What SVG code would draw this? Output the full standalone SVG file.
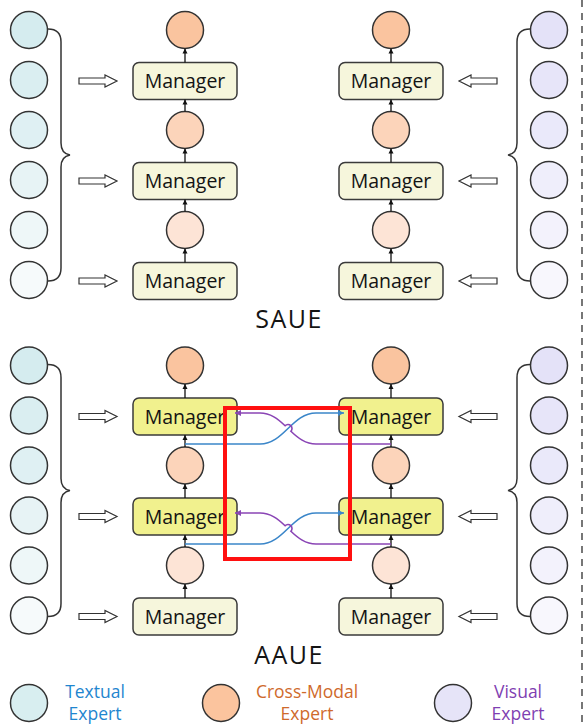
<svg xmlns="http://www.w3.org/2000/svg" width="584" height="724" viewBox="0 0 584 724">
  <style>
    .expert { stroke: #333; stroke-width: 1.5; }
    .mgr rect { fill: #f6f6dc; stroke: #3a3a3a; stroke-width: 1.5; }
    .mgr.active rect { fill: #f1f18e; }
    .mgr text { font-family: "Open Sans", "Noto Sans", sans-serif; font-size: 19.5px; fill: #141414; text-anchor: middle; }
    .hollow { fill: #fff; stroke: #333; stroke-width: 1.2; stroke-linejoin: miter; }
    .brace { fill: none; stroke: #333; stroke-width: 1.5; }
    .stem { stroke: #111; stroke-width: 1.3; marker-end: url(#tip); }
    .title { font-family: "Open Sans", "Noto Sans", sans-serif; font-size: 25px; fill: #141414; text-anchor: middle; letter-spacing: 1.5px; }
    .legend { font-family: "Open Sans", "Noto Sans", sans-serif; font-size: 17.5px; text-anchor: middle; }
    .blue { fill: none; stroke: #3b86c9; stroke-width: 1.6; marker-end: url(#tipBlue); }
    .purple { fill: none; stroke: #8a45b5; stroke-width: 1.6; marker-end: url(#tipPurple); }
  </style>
  <defs>
    <marker id="tip" viewBox="0 0 10 10" refX="10" refY="5" markerWidth="5" markerHeight="6" markerUnits="userSpaceOnUse" orient="auto">
      <path d="M0,0 L10,5 L0,10 z" fill="#111"/>
    </marker>
    <marker id="tipBlue" viewBox="0 0 10 10" refX="10" refY="5" markerWidth="7" markerHeight="6" markerUnits="userSpaceOnUse" orient="auto">
      <path d="M0,0 L10,5 L0,10 z" fill="#3b86c9"/>
    </marker>
    <marker id="tipPurple" viewBox="0 0 10 10" refX="10" refY="5" markerWidth="7" markerHeight="6" markerUnits="userSpaceOnUse" orient="auto">
      <path d="M0,0 L10,5 L0,10 z" fill="#8a45b5"/>
    </marker>
    <circle id="ball" r="18.5"/>
    <polygon id="arrowR" points="-38,-3 -12,-3 -12,-6 0,0 -12,6 -12,3 -38,3"/>
    <polygon id="arrowL" points="38,-3 12,-3 12,-6 0,0 12,6 12,3 38,3"/>
    <path id="braceL" d="M48,29 C57,29 61,33 61,42 L61,143 C61,150 64,154 70,155 C64,156 61,160 61,167 L61,268 C61,277 57,281 48,281"/>
    <path id="braceR" d="M530,29 C521,29 517,33 517,42 L517,143 C517,150 514,154 508,155 C514,156 517,160 517,167 L517,268 C517,277 521,281 530,281"/>
  </defs>

  <!-- page divider on the right edge -->
  <line x1="582" y1="0" x2="582" y2="724" stroke="#555" stroke-width="1.6" stroke-dasharray="7 6"/>

  <!-- ===== SAUE ===== -->
  <g id="saue">
    <g id="saue-textual">
      <use href="#ball" class="expert" x="29" y="30" fill="#d5ecef"/>
      <use href="#ball" class="expert" x="29" y="80" fill="#daeef1"/>
      <use href="#ball" class="expert" x="29" y="130" fill="#dff0f3"/>
      <use href="#ball" class="expert" x="29" y="180" fill="#e7f3f5"/>
      <use href="#ball" class="expert" x="29" y="230" fill="#eef7f8"/>
      <use href="#ball" class="expert" x="29" y="280" fill="#f6fafb"/>
      <use href="#braceL" class="brace"/>
    </g>
    <g id="saue-visual">
      <use href="#ball" class="expert" x="549" y="30" fill="#e4e2f8"/>
      <use href="#ball" class="expert" x="549" y="80" fill="#e7e5f9"/>
      <use href="#ball" class="expert" x="549" y="130" fill="#eae9fa"/>
      <use href="#ball" class="expert" x="549" y="180" fill="#efeefb"/>
      <use href="#ball" class="expert" x="549" y="230" fill="#f3f2fc"/>
      <use href="#ball" class="expert" x="549" y="280" fill="#f8f7fd"/>
      <use href="#braceR" class="brace"/>
    </g>
    <g id="saue-inputs">
      <use href="#arrowR" class="hollow" x="117" y="81"/>
      <use href="#arrowR" class="hollow" x="117" y="181"/>
      <use href="#arrowR" class="hollow" x="117" y="281"/>
      <use href="#arrowL" class="hollow" x="459" y="81"/>
      <use href="#arrowL" class="hollow" x="459" y="181"/>
      <use href="#arrowL" class="hollow" x="459" y="281"/>
    </g>
    <g id="saue-left">
      <g id="saue-l-cm1"><use href="#ball" class="expert" x="185" y="30" fill="#fac49f"/></g>
      <g id="saue-l-cm2"><use href="#ball" class="expert" x="185" y="130" fill="#fcd4ba"/></g>
      <g id="saue-l-cm3"><use href="#ball" class="expert" x="185" y="230" fill="#fde4d6"/></g>
      <g id="saue-l-m1" class="mgr"><rect x="133" y="62.5" width="104" height="37" rx="6"/><text x="185" y="88">Manager</text></g>
      <g id="saue-l-m2" class="mgr"><rect x="133" y="162.5" width="104" height="37" rx="6"/><text x="185" y="188">Manager</text></g>
      <g id="saue-l-m3" class="mgr"><rect x="133" y="262.5" width="104" height="37" rx="6"/><text x="185" y="288">Manager</text></g>
    </g>
    <g id="saue-right">
      <g id="saue-r-cm1"><use href="#ball" class="expert" x="391" y="30" fill="#fac49f"/></g>
      <g id="saue-r-cm2"><use href="#ball" class="expert" x="391" y="130" fill="#fcd4ba"/></g>
      <g id="saue-r-cm3"><use href="#ball" class="expert" x="391" y="230" fill="#fde4d6"/></g>
      <g id="saue-r-m1" class="mgr"><rect x="339" y="62.5" width="104" height="37" rx="6"/><text x="391" y="88">Manager</text></g>
      <g id="saue-r-m2" class="mgr"><rect x="339" y="162.5" width="104" height="37" rx="6"/><text x="391" y="188">Manager</text></g>
      <g id="saue-r-m3" class="mgr"><rect x="339" y="262.5" width="104" height="37" rx="6"/><text x="391" y="288">Manager</text></g>
    </g>
    <g id="saue-links">
      <line class="stem" x1="185" y1="262.5" x2="185" y2="248.5"/>
      <line class="stem" x1="185" y1="211.5" x2="185" y2="199.5"/>
      <line class="stem" x1="185" y1="162.5" x2="185" y2="148.5"/>
      <line class="stem" x1="185" y1="111.5" x2="185" y2="99.5"/>
      <line class="stem" x1="185" y1="62.5" x2="185" y2="48.5"/>
      <line class="stem" x1="391" y1="262.5" x2="391" y2="248.5"/>
      <line class="stem" x1="391" y1="211.5" x2="391" y2="199.5"/>
      <line class="stem" x1="391" y1="162.5" x2="391" y2="148.5"/>
      <line class="stem" x1="391" y1="111.5" x2="391" y2="99.5"/>
      <line class="stem" x1="391" y1="62.5" x2="391" y2="48.5"/>
    </g>
    <text class="title" x="289" y="328">SAUE</text>
  </g>

  <!-- ===== AAUE ===== -->
  <g id="aaue">
    <g id="aaue-textual" transform="translate(0,335.5)">
      <use href="#ball" class="expert" x="29" y="30" fill="#d5ecef"/>
      <use href="#ball" class="expert" x="29" y="80" fill="#daeef1"/>
      <use href="#ball" class="expert" x="29" y="130" fill="#dff0f3"/>
      <use href="#ball" class="expert" x="29" y="180" fill="#e7f3f5"/>
      <use href="#ball" class="expert" x="29" y="230" fill="#eef7f8"/>
      <use href="#ball" class="expert" x="29" y="280" fill="#f6fafb"/>
      <use href="#braceL" class="brace"/>
    </g>
    <g id="aaue-visual" transform="translate(0,335.5)">
      <use href="#ball" class="expert" x="549" y="30" fill="#e4e2f8"/>
      <use href="#ball" class="expert" x="549" y="80" fill="#e7e5f9"/>
      <use href="#ball" class="expert" x="549" y="130" fill="#eae9fa"/>
      <use href="#ball" class="expert" x="549" y="180" fill="#efeefb"/>
      <use href="#ball" class="expert" x="549" y="230" fill="#f3f2fc"/>
      <use href="#ball" class="expert" x="549" y="280" fill="#f8f7fd"/>
      <use href="#braceR" class="brace"/>
    </g>
    <g id="aaue-inputs">
      <use href="#arrowR" class="hollow" x="117" y="416.5"/>
      <use href="#arrowR" class="hollow" x="117" y="516.5"/>
      <use href="#arrowR" class="hollow" x="117" y="616.5"/>
      <use href="#arrowL" class="hollow" x="459" y="416.5"/>
      <use href="#arrowL" class="hollow" x="459" y="516.5"/>
      <use href="#arrowL" class="hollow" x="459" y="616.5"/>
    </g>
    <g id="aaue-left">
      <g id="aaue-l-cm1"><use href="#ball" class="expert" x="185" y="365.5" fill="#fac49f"/></g>
      <g id="aaue-l-cm2"><use href="#ball" class="expert" x="185" y="465.5" fill="#fcd4ba"/></g>
      <g id="aaue-l-cm3"><use href="#ball" class="expert" x="185" y="565.5" fill="#fde4d6"/></g>
      <g id="aaue-l-m1" class="mgr active"><rect x="133" y="398" width="104" height="37" rx="6"/><text x="185" y="423.5">Manager</text></g>
      <g id="aaue-l-m2" class="mgr active"><rect x="133" y="498" width="104" height="37" rx="6"/><text x="185" y="523.5">Manager</text></g>
      <g id="aaue-l-m3" class="mgr"><rect x="133" y="598" width="104" height="37" rx="6"/><text x="185" y="623.5">Manager</text></g>
    </g>
    <g id="aaue-right">
      <g id="aaue-r-cm1"><use href="#ball" class="expert" x="391" y="365.5" fill="#fac49f"/></g>
      <g id="aaue-r-cm2"><use href="#ball" class="expert" x="391" y="465.5" fill="#fcd4ba"/></g>
      <g id="aaue-r-cm3"><use href="#ball" class="expert" x="391" y="565.5" fill="#fde4d6"/></g>
      <g id="aaue-r-m1" class="mgr active"><rect x="339" y="398" width="104" height="37" rx="6"/><text x="391" y="423.5">Manager</text></g>
      <g id="aaue-r-m2" class="mgr active"><rect x="339" y="498" width="104" height="37" rx="6"/><text x="391" y="523.5">Manager</text></g>
      <g id="aaue-r-m3" class="mgr"><rect x="339" y="598" width="104" height="37" rx="6"/><text x="391" y="623.5">Manager</text></g>
    </g>
    <g id="aaue-links">
      <g transform="translate(0,335.5)">
        <line class="stem" x1="185" y1="262.5" x2="185" y2="248.5"/>
        <line class="stem" x1="185" y1="211.5" x2="185" y2="199.5"/>
        <line class="stem" x1="185" y1="162.5" x2="185" y2="148.5"/>
        <line class="stem" x1="185" y1="111.5" x2="185" y2="99.5"/>
        <line class="stem" x1="185" y1="62.5" x2="185" y2="48.5"/>
        <line class="stem" x1="391" y1="262.5" x2="391" y2="248.5"/>
        <line class="stem" x1="391" y1="211.5" x2="391" y2="199.5"/>
        <line class="stem" x1="391" y1="162.5" x2="391" y2="148.5"/>
        <line class="stem" x1="391" y1="111.5" x2="391" y2="99.5"/>
        <line class="stem" x1="391" y1="62.5" x2="391" y2="48.5"/>
      </g>
      <!-- cross links: textual side feeds the visual manager and vice versa; purple hops over blue -->
      <g id="cross-1">
        <path class="blue" d="M185,444 H260 C284,444 292,413 316,413 H344"/>
        <path class="purple" d="M391,444 H316 C305.44,444 297.98,438 290.89,431.28 A4,4 0 0 0 285.11,425.72 C278.02,419 270.56,413 260,413 H235"/>
      </g>
      <g id="cross-2" transform="translate(0,100)">
        <path class="blue" d="M185,444 H260 C284,444 292,413 316,413 H344"/>
        <path class="purple" d="M391,444 H316 C305.44,444 297.98,438 290.89,431.28 A4,4 0 0 0 285.11,425.72 C278.02,419 270.56,413 260,413 H235"/>
      </g>
    </g>
    <rect id="highlight" x="225" y="408" width="125" height="151" fill="none" stroke="#ff1010" stroke-width="4"/>
    <text class="title" x="289" y="664">AAUE</text>
  </g>

  <!-- ===== legend ===== -->
  <g id="legend">
    <g id="legend-textual">
      <circle class="expert" cx="29" cy="703" r="18.5" fill="#d8eef0"/>
      <text class="legend" fill="#1f86cf" x="95" y="698">Textual</text>
      <text class="legend" fill="#1f86cf" x="95" y="720">Expert</text>
    </g>
    <g id="legend-crossmodal">
      <circle class="expert" cx="221" cy="703" r="18.5" fill="#fbc49e"/>
      <text class="legend" fill="#cf6a2c" x="307" y="698">Cross-Modal</text>
      <text class="legend" fill="#cf6a2c" x="307" y="720">Expert</text>
    </g>
    <g id="legend-visual">
      <circle class="expert" cx="453" cy="703" r="18.5" fill="#e6e4f8"/>
      <text class="legend" fill="#7f3fb2" x="518" y="698">Visual</text>
      <text class="legend" fill="#7f3fb2" x="518" y="720">Expert</text>
    </g>
  </g>
</svg>
